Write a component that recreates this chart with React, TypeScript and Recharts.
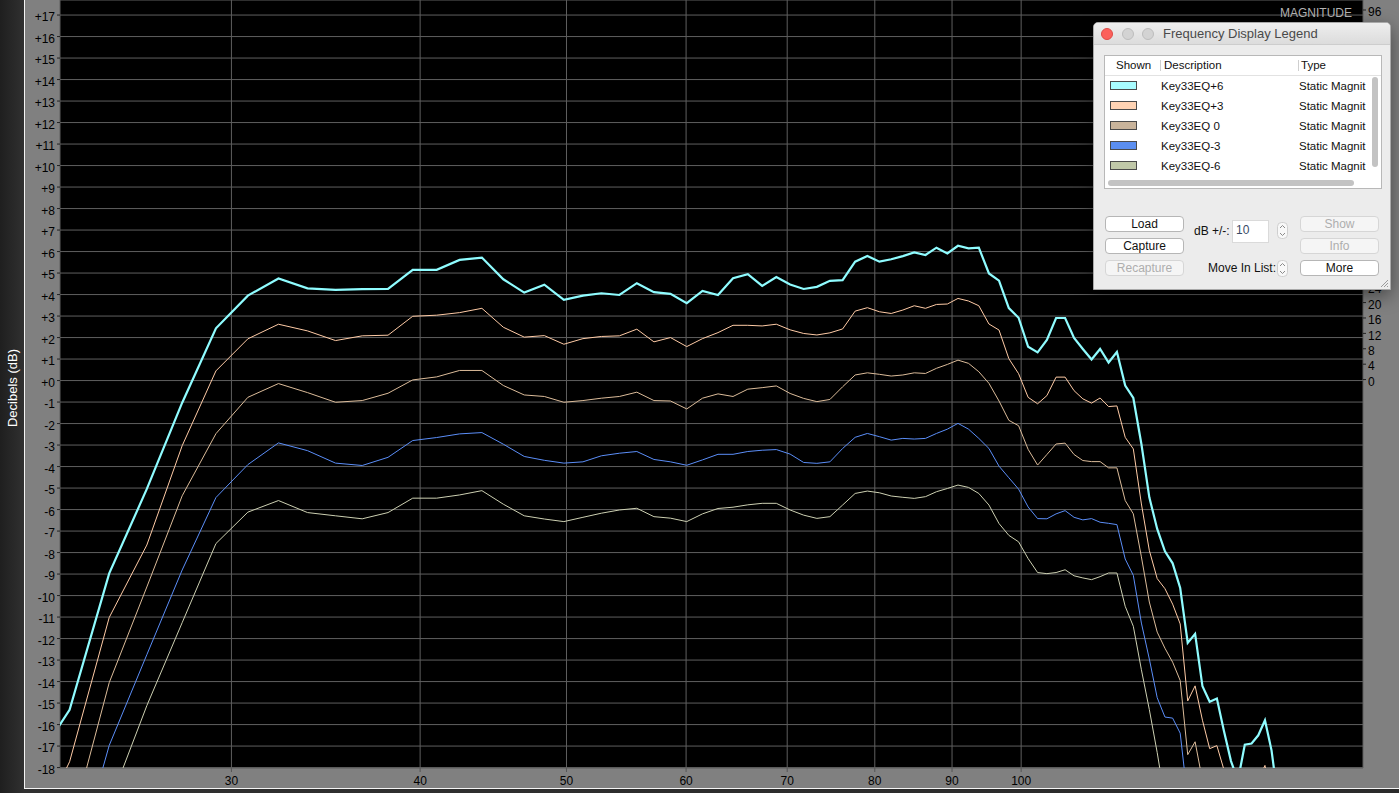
import React from 'react';
import { LineChart, Line, XAxis, YAxis, CartesianGrid } from 'recharts';

// FFT bin frequencies (x axis, log scale)
const FREQ_HZ = [
  21.97, 23.44, 24.9, 26.37, 27.83, 29.3, 30.76, 32.23, 33.69, 35.16,
  36.62, 38.09, 39.55, 41.02, 42.48, 43.95, 45.41, 46.88, 48.34, 49.8,
  51.27, 52.73, 54.2, 55.66, 57.13, 58.59, 60.06, 61.52, 62.99, 64.45,
  65.92, 67.38, 68.85, 70.31, 71.78, 73.24, 74.71, 76.17, 77.64, 79.1,
  80.57, 82.03, 83.5, 84.96, 86.43, 87.89, 89.36, 90.82, 92.29, 93.75,
  95.21, 96.68, 98.14, 99.61, 101.07, 102.54, 104.0, 105.47, 106.93, 108.4,
  109.86, 111.33, 112.79, 114.26, 115.72, 117.19, 118.65, 120.12, 121.58, 123.05,
  124.51, 125.98, 127.44, 128.91, 130.37, 131.84, 133.3, 134.77, 136.23, 137.7,
  139.16, 140.63, 142.09, 143.55, 145.02, 146.48, 147.95,
];

const KEY33EQ_P6 = [
  -18.35, -15.31, -8.97, -5.04, -1.03, 2.43, 3.95, 4.75, 4.29, 4.22,
  4.25, 4.26, 5.15, 5.15, 5.61, 5.72, 4.71, 4.09, 4.46, 3.75,
  3.95, 4.06, 3.98, 4.53, 4.11, 4.03, 3.6, 4.17, 3.98, 4.76,
  4.95, 4.4, 4.81, 4.47, 4.26, 4.36, 4.64, 4.67, 5.53, 5.79,
  5.53, 5.64, 5.79, 5.96, 5.84, 6.18, 5.91, 6.27, 6.15, 6.18,
  4.98, 4.65, 3.37, 2.92, 1.57, 1.31, 1.89, 2.91, 2.91, 1.98,
  1.47, 0.98, 1.47, 0.84, 1.33, -0.23, -0.81, -2.95, -5.43, -6.9,
  -7.94, -8.5, -9.65, -12.2, -11.78, -14.22, -14.94, -14.79, -16.3, -17.7,
  -18.6, -16.94, -16.88, -16.5, -15.8, -17.2, -19.5,
];

const KEY33EQ_P3 = [
  -21.8, -17.73, -11.02, -7.65, -3.03, 0.45, 1.94, 2.62, 2.31, 1.86,
  2.08, 2.11, 2.99, 3.04, 3.16, 3.36, 2.48, 2.02, 2.09, 1.69,
  1.95, 2.05, 2.08, 2.39, 1.8, 2.0, 1.58, 1.95, 2.23, 2.57,
  2.57, 2.54, 2.62, 2.36, 2.19, 2.12, 2.22, 2.4, 3.23, 3.39,
  3.2, 3.12, 3.28, 3.48, 3.36, 3.54, 3.56, 3.82, 3.7, 3.48,
  2.63, 2.35, 1.02, 0.32, -0.78, -1.08, -0.7, 0.16, 0.16, -0.47,
  -0.85, -1.05, -0.81, -1.21, -1.18, -2.64, -3.18, -5.74, -7.9, -9.21,
  -9.68, -10.4, -11.32, -14.9, -14.2, -15.8, -17.12, -16.98, -18.1, -19.0,
  -19.8, -19.4, -19.0, -18.6, -17.9, -19.5, -21.0,
];

const KEY33EQ_0 = [
  null, -21.0, -14.05, -9.6, -5.36, -2.47, -0.78, -0.14, -0.56, -1.01,
  -0.93, -0.59, 0.03, 0.17, 0.47, 0.47, -0.23, -0.67, -0.74, -1.01,
  -0.93, -0.82, -0.74, -0.54, -0.93, -0.95, -1.32, -0.82, -0.62, -0.74,
  -0.4, -0.33, -0.25, -0.6, -0.83, -0.98, -0.88, -0.29, 0.26, 0.36,
  0.29, 0.21, 0.26, 0.36, 0.33, 0.57, 0.75, 0.95, 0.8, 0.41,
  -0.13, -0.95, -1.85, -2.1, -3.2, -3.93, -3.44, -2.95, -2.91, -3.44,
  -3.72, -3.77, -3.77, -4.06, -4.06, -5.58, -6.2, -8.2, -10.3, -11.7,
  -12.45, -13.1, -13.95, -17.4, -16.8, -18.6, -20.0, null, null, null,
  null, null, null, null, null, null, null,
];

const KEY33EQ_M3 = [
  null, -23.5, -16.97, -12.75, -8.81, -5.44, -3.91, -2.9, -3.26, -3.84,
  -3.95, -3.57, -2.79, -2.65, -2.48, -2.42, -2.96, -3.53, -3.71, -3.84,
  -3.78, -3.5, -3.38, -3.3, -3.67, -3.78, -3.94, -3.69, -3.43, -3.43,
  -3.3, -3.24, -3.21, -3.42, -3.81, -3.85, -3.78, -3.16, -2.64, -2.46,
  -2.61, -2.77, -2.69, -2.72, -2.69, -2.46, -2.26, -1.99, -2.26, -2.69,
  -3.16, -3.98, -4.52, -5.05, -5.88, -6.42, -6.43, -6.2, -6.05, -6.36,
  -6.48, -6.42, -6.59, -6.64, -6.7, -8.3, -9.06, -11.28, -12.95, -14.75,
  -15.65, -15.7, -16.4, -19.5, null, null, null, null, null, null,
  null, null, null, null, null, null, null,
];

const KEY33EQ_M6 = [
  null, null, -19.7, -15.12, -11.26, -7.58, -6.12, -5.58, -6.14, -6.29,
  -6.43, -6.14, -5.47, -5.47, -5.32, -5.12, -5.75, -6.29, -6.44, -6.56,
  -6.36, -6.17, -6.02, -5.94, -6.33, -6.4, -6.56, -6.2, -5.95, -5.89,
  -5.78, -5.71, -5.71, -6.02, -6.26, -6.41, -6.33, -5.79, -5.25, -5.14,
  -5.22, -5.37, -5.43, -5.48, -5.4, -5.17, -5.02, -4.86, -4.97, -5.25,
  -5.79, -6.65, -7.2, -7.5, -8.28, -8.93, -8.98, -8.93, -8.8, -9.08,
  -9.18, -9.26, -9.12, -8.95, -8.95, -10.5, -11.43, -13.45, -15.3, -17.3,
  -19.5, null, null, null, null, null, null, null, null, null,
  null, null, null, null, null, null, null,
];

const X_TICKS = [30, 40, 50, 60, 70, 80, 90, 100];
const DB_TICKS = [
  -18, -17, -16, -15, -14, -13, -12, -11, -10, -9, -8, -7, -6, -5, -4, -3, -2, -1,
  0, 1, 2, 3, 4, 5, 6, 7, 8, 9, 10, 11, 12, 13, 14, 15, 16, 17,
];
const MAG_TICKS = [0, 4, 8, 12, 16, 20, 24, 28, 32, 36, 40, 44, 48, 52, 56, 60, 64, 68, 72, 76, 80, 84, 88, 92, 96];

const FONT = '"Liberation Sans", Arial, Helvetica, sans-serif';

const SERIES = [
  { key: 'p6', name: 'Key33EQ+6', values: KEY33EQ_P6, stroke: '#8ffcff', swatch: '#a8fcff', width: 2.2 },
  { key: 'p3', name: 'Key33EQ+3', values: KEY33EQ_P3, stroke: '#ffcba6', swatch: '#ffd3b4', width: 1 },
  { key: 'z0', name: 'Key33EQ 0', values: KEY33EQ_0, stroke: '#dcbc9a', swatch: '#c9b49b', width: 1 },
  { key: 'm3', name: 'Key33EQ-3', values: KEY33EQ_M3, stroke: '#5b8ef8', swatch: '#5b8ef0', width: 1 },
  { key: 'm6', name: 'Key33EQ-6', values: KEY33EQ_M6, stroke: '#cdd0b2', swatch: '#c0c8a8', width: 1 },
];

const data = FREQ_HZ.map((f, i) => {
  const row: Record<string, number | null> = { f };
  SERIES.forEach((s) => {
    row[s.key] = s.values[i];
  });
  return row;
});

const fmtDb = (v: number) => (v >= 0 ? `+${v}` : `${v}`);

const tickStyle = { fill: '#000', fontSize: 12, fontFamily: FONT };
const yTickStyle = { ...tickStyle, dy: 2 };

const Button = ({ x, y, label, disabled }: { x: number; y: number; label: string; disabled?: boolean }) => (
  <div
    style={{
      position: 'absolute',
      left: x,
      top: y,
      width: 79,
      height: 16,
      boxSizing: 'border-box',
      border: `1px solid ${disabled ? '#d6d6d6' : '#b6b6b6'}`,
      borderRadius: 4,
      background: disabled ? '#f5f5f5' : '#fff',
      color: disabled ? '#aeaeae' : '#111',
      fontSize: 12,
      lineHeight: '14px',
      textAlign: 'center',
    }}
  >
    {label}
  </div>
);

const Stepper = ({ x, y }: { x: number; y: number }) => (
  <svg style={{ position: 'absolute', left: x, top: y }} width={11} height={17}>
    <rect x={0.5} y={0.5} width={10} height={16} rx={4} fill="#f8f8f8" stroke="#cfcfcf" />
    <path d="M3 6 L5.5 3.5 L8 6" fill="none" stroke="#8a8a8a" strokeWidth={1} />
    <path d="M3 11 L5.5 13.5 L8 11" fill="none" stroke="#8a8a8a" strokeWidth={1} />
  </svg>
);

const Dot = ({ x, fill, border }: { x: number; fill: string; border: string }) => (
  <div
    style={{
      position: 'absolute',
      left: x - 6,
      top: 5,
      width: 12,
      height: 12,
      boxSizing: 'border-box',
      borderRadius: 6,
      background: fill,
      border: `1px solid ${border}`,
    }}
  />
);

const LegendWindow = () => (
  <div
    style={{
      position: 'absolute',
      left: 1093,
      top: 22,
      width: 298,
      height: 268,
      boxSizing: 'border-box',
      background: '#ececec',
      border: '1px solid #a9a9a9',
      borderRadius: '5px 5px 0 0',
      boxShadow: '0 6px 18px rgba(0,0,0,0.45)',
      fontFamily: FONT,
      color: '#111',
      overflow: 'hidden',
    }}
  >
    <div
      style={{
        position: 'absolute',
        left: 0,
        top: 0,
        right: 0,
        height: 21,
        background: 'linear-gradient(#eeeeee, #dcdcdc)',
        borderBottom: '1px solid #cdcdcd',
      }}
    >
      <Dot x={13} fill="#fc605b" border="#de4b46" />
      <Dot x={33.5} fill="#d3d3d3" border="#bdbdbd" />
      <Dot x={53.5} fill="#d3d3d3" border="#bdbdbd" />
      <div style={{ position: 'absolute', left: 69, top: 3, fontSize: 13, lineHeight: '16px', color: '#4a4a4a' }}>
        Frequency Display Legend
      </div>
    </div>

    <div
      style={{
        position: 'absolute',
        left: 10,
        top: 32,
        width: 278,
        height: 134,
        boxSizing: 'border-box',
        background: '#fff',
        border: '1px solid #b8b8b8',
        fontSize: 11.5,
      }}
    >
      <div style={{ position: 'absolute', left: 0, top: 0, right: 0, height: 19, borderBottom: '1px solid #e2e2e2' }}>
        <div style={{ position: 'absolute', left: 11, top: 3, lineHeight: '13px' }}>Shown</div>
        <div style={{ position: 'absolute', left: 55, top: 4, width: 1, height: 11, background: '#cfcfcf' }} />
        <div style={{ position: 'absolute', left: 59, top: 3, lineHeight: '13px' }}>Description</div>
        <div style={{ position: 'absolute', left: 193, top: 4, width: 1, height: 11, background: '#cfcfcf' }} />
        <div style={{ position: 'absolute', left: 196, top: 3, lineHeight: '13px' }}>Type</div>
      </div>
      {SERIES.map((s, i) => (
        <div key={s.key} style={{ position: 'absolute', left: 0, top: 20 + i * 20, right: 0, height: 20 }}>
          <div
            style={{
              position: 'absolute',
              left: 5,
              top: 5,
              width: 27,
              height: 9,
              boxSizing: 'border-box',
              background: s.swatch,
              border: '1px solid #4a4a4a',
            }}
          />
          <div style={{ position: 'absolute', left: 56, top: 3, lineHeight: '14px' }}>{s.name}</div>
          <div style={{ position: 'absolute', left: 194, top: 3, lineHeight: '14px' }}>Static Magnit</div>
        </div>
      ))}
      <div style={{ position: 'absolute', left: 267, top: 21, width: 6, height: 90, borderRadius: 3, background: '#c3c3c3' }} />
      <div style={{ position: 'absolute', left: 3, top: 124, width: 246, height: 6, borderRadius: 3, background: '#c3c3c3' }} />
    </div>

    <Button x={11} y={193} label="Load" />
    <Button x={11} y={215} label="Capture" />
    <Button x={11} y={237} label="Recapture" disabled />
    <Button x={206} y={193} label="Show" disabled />
    <Button x={206} y={215} label="Info" disabled />
    <Button x={206} y={237} label="More" />

    <div style={{ position: 'absolute', left: 100, top: 201, fontSize: 12, lineHeight: '14px' }}>dB +/-:</div>
    <div
      style={{
        position: 'absolute',
        left: 138,
        top: 197,
        width: 37,
        height: 23,
        boxSizing: 'border-box',
        background: '#fff',
        border: '1px solid #dadada',
      }}
    >
      <div style={{ position: 'absolute', left: 3, top: 2, fontSize: 12, lineHeight: '14px', color: '#3a4a66' }}>10</div>
    </div>
    <Stepper x={183} y={199} />
    <div style={{ position: 'absolute', left: 114, top: 238, fontSize: 12, lineHeight: '14px' }}>Move In List:</div>
    <Stepper x={183} y={237} />

    <svg style={{ position: 'absolute', right: 1, bottom: 1 }} width={10} height={10}>
      <path d="M2 9 L9 2 M5 9 L9 5 M8 9 L9 8" stroke="#9a9a9a" strokeWidth={1} />
    </svg>
  </div>
);

export default function App() {
  return (
    <div
      style={{
        position: 'absolute',
        left: 0,
        top: 0,
        width: 1399,
        height: 793,
        background: 'linear-gradient(90deg, #1f1f1f, #303030 24px, #2a2a2a)',
        overflow: 'hidden',
        fontFamily: FONT,
      }}
    >
      <div
        style={{
          position: 'absolute',
          left: 24,
          top: 0,
          width: 1375,
          height: 789,
          boxSizing: 'border-box',
          background: '#808080',
          borderLeft: '1px solid #f4f4f4',
          borderBottom: '1px solid #f4f4f4',
        }}
      />
      <div
        style={{
          position: 'absolute',
          left: 12,
          top: 388,
          transform: 'translate(-50%, -50%) rotate(-90deg)',
          color: '#fff',
          fontSize: 13,
          whiteSpace: 'nowrap',
        }}
      >
        Decibels (dB)
      </div>

      <div style={{ position: 'absolute', left: 0, top: 0 }}>
        <LineChart width={1399} height={793} data={data} margin={{ top: 0, right: 0, bottom: 0, left: 25 }}>
          <CartesianGrid fill="#000" stroke="#5f5f5f" strokeWidth={1} />
          <XAxis
            dataKey="f"
            type="number"
            scale="log"
            domain={[23.1, 168.4]}
            allowDataOverflow
            ticks={X_TICKS}
            interval={0}
            height={25}
            tickSize={4}
            tickMargin={4}
            axisLine={false}
            tickLine={{ stroke: '#555' }}
            tick={tickStyle}
          />
          <YAxis
            type="number"
            domain={[-18.02, 17.7]}
            allowDataOverflow
            ticks={DB_TICKS}
            interval={0}
            width={35}
            tickSize={3}
            tickMargin={2}
            axisLine={false}
            tickLine={{ stroke: '#222' }}
            tickFormatter={fmtDb}
            tick={yTickStyle}
          />
          <YAxis
            yAxisId="mag"
            orientation="right"
            type="number"
            domain={[-100.9, 98.6]}
            allowDataOverflow
            ticks={MAG_TICKS}
            interval={0}
            width={36}
            tickSize={3}
            tickMargin={2}
            axisLine={false}
            tickLine={{ stroke: '#222' }}
            tick={yTickStyle}
          />
          {SERIES.map((s) => (
            <Line
              key={s.key}
              type="linear"
              dataKey={s.key}
              name={s.name}
              stroke={s.stroke}
              strokeWidth={s.width}
              dot={false}
              activeDot={false}
              isAnimationActive={false}
            />
          ))}
        </LineChart>
      </div>

      <div
        style={{
          position: 'absolute',
          left: 1280,
          top: 6,
          fontSize: 12,
          lineHeight: '14px',
          color: '#b4b4b4',
        }}
      >
        MAGNITUDE
      </div>

      <LegendWindow />
    </div>
  );
}
